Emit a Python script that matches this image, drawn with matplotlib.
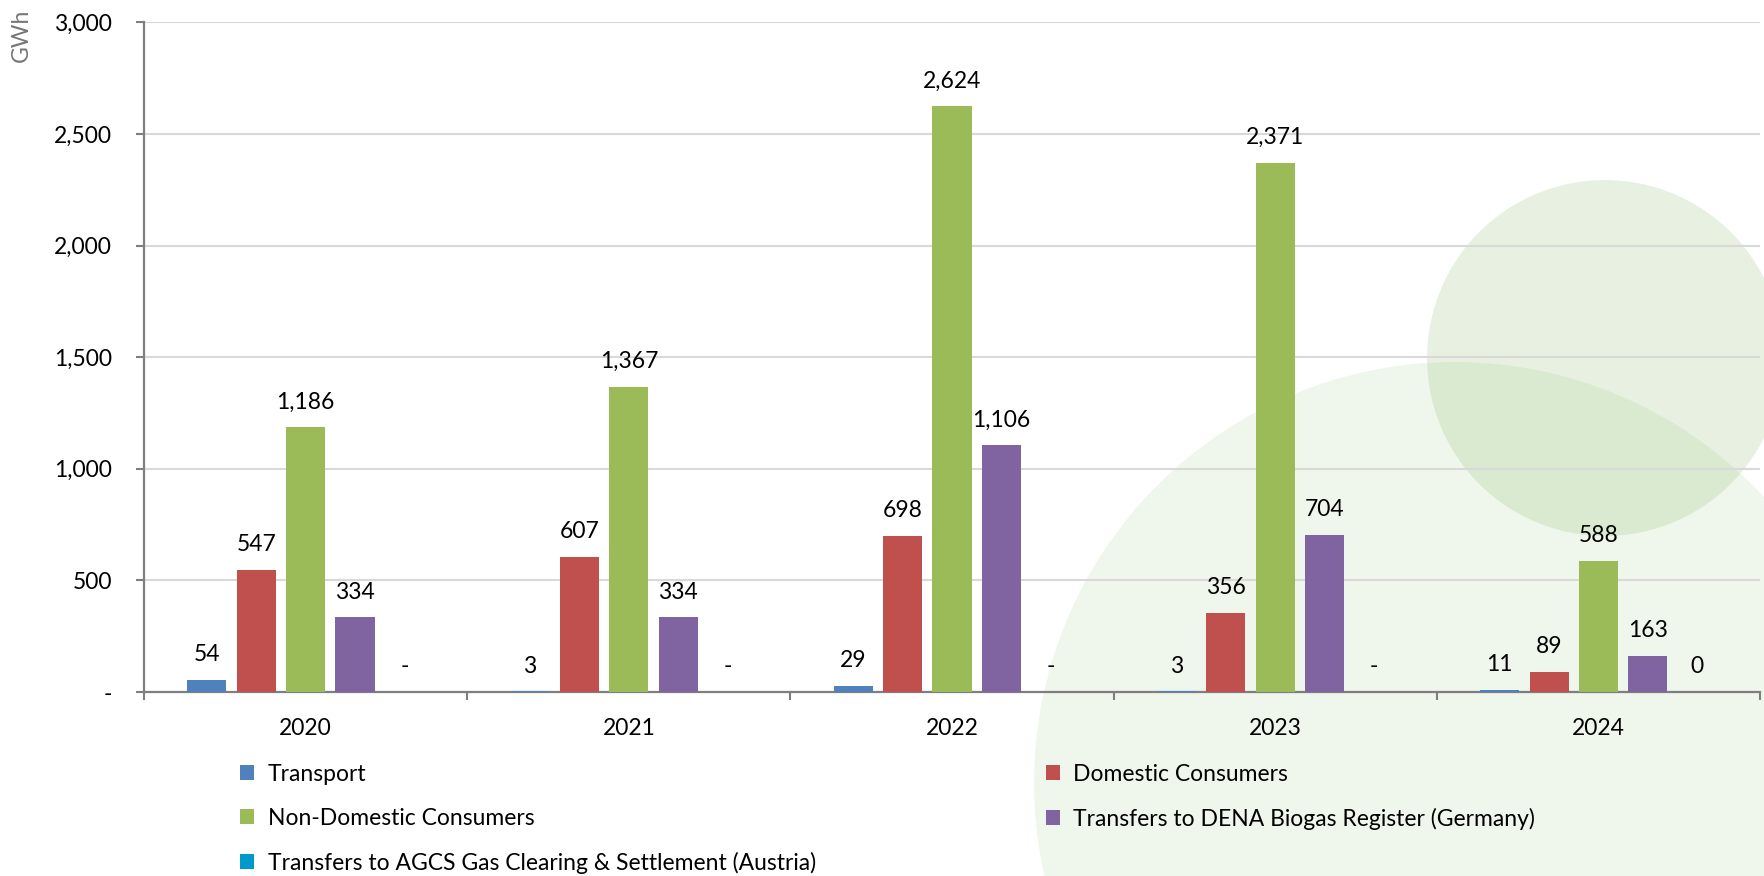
import numpy as np
import matplotlib
matplotlib.use("Agg")
import matplotlib.pyplot as plt
from matplotlib.patches import Circle, Patch
from matplotlib.ticker import FuncFormatter

plt.rcParams['font.family'] = ['Lato', 'DejaVu Sans']

# 数据
years = ['2020', '2021', '2022', '2023', '2024']
series_names = ['Transport',
                'Domestic Consumers',
                'Non-Domestic Consumers',
                'Transfers to DENA Biogas Register (Germany)',
                'Transfers to AGCS Gas Clearing & Settlement (Austria)']
transport = [54, 3, 29, 3, 11]
domestic = [547, 607, 698, 356, 89]
non_domestic = [1186, 1367, 2624, 2371, 588]
dena = [334, 334, 1106, 704, 163]
agcs = [0, 0, 0, 0, 0]
agcs_labels = ['-', '-', '-', '-', '0']
colors = ['#4F81BD', '#C0504D', '#9BBB59', '#8064A2', '#0099CC']

W, H = 1765, 876
FS = 16.5
fig = plt.figure(figsize=(W / 100, H / 100), dpi=100)
ax = fig.add_axes([0.0816, 0.2100, 0.9156, 0.7645])
ax.set_facecolor('none')


def px(x, y):
    # 像素坐标(左上原点) -> 英寸
    return (x / 100, (H - y) / 100)


# 背景装饰圆
fig.add_artist(Circle(px(1455, 783), 4.21, transform=fig.dpi_scale_trans,
                      facecolor='#70AD47', alpha=0.105, lw=0, zorder=-5))
fig.add_artist(Circle(px(1605, 358), 1.78, transform=fig.dpi_scale_trans,
                      facecolor='#70AD47', alpha=0.16, lw=0, zorder=-4))

x = np.arange(len(years))
step = 0.1527
width = 0.121
all_series = [transport, domestic, non_domestic, dena, agcs]

handles = []
for k, (vals, name, col) in enumerate(zip(all_series, series_names, colors)):
    pos = x + (k - 2) * step
    ax.bar(pos, vals, width=width, color=col, zorder=3)
    handles.append(Patch(facecolor=col, label=name))
    for i, v in enumerate(vals):
        label = agcs_labels[i] if vals is agcs else f"{v:,}"
        ax.annotate(label, (pos[i], v), xytext=(0, 13.5), textcoords='offset points',
                    ha='center', va='baseline', fontsize=FS, color='black')

# 坐标轴
ax.set_ylim(0, 3000)
ax.set_yticks(np.arange(0, 3001, 500))
ax.yaxis.set_major_formatter(FuncFormatter(lambda v, p: '-' if v == 0 else f"{int(v):,}"))
ax.grid(axis='y', color='#D9D9D9', lw=1.5, zorder=0)
ax.set_axisbelow(True)

ax.set_xlim(-0.5, 4.5)
ax.set_xticks(x)
ax.set_xticklabels(years)
ax.set_xticks(np.arange(-0.5, 5, 1), minor=True)

for s in ['top', 'right']:
    ax.spines[s].set_visible(False)
for s in ['left', 'bottom']:
    ax.spines[s].set_color('#7F7F7F')
    ax.spines[s].set_linewidth(1.6)

ax.tick_params(axis='y', length=6, width=1.5, color='#7F7F7F', pad=17, labelsize=FS)
ax.tick_params(axis='x', which='major', length=0, pad=19, labelsize=FS)
ax.tick_params(axis='x', which='minor', length=5.5, width=1.5, color='#7F7F7F')

fig.text(21.7 / W, 1 - 35 / H, 'GWh', rotation=90, ha='center', va='center',
         color='#767676', fontsize=FS)

# 图例 (两列)
leg_kw = dict(loc='upper left', frameon=False, fontsize=FS, handlelength=0.63,
              handleheight=0.63, handletextpad=0.57, labelspacing=1.0,
              borderaxespad=0, borderpad=0)
leg1 = fig.legend(handles=[handles[0], handles[2], handles[4]],
                  bbox_to_anchor=(240 / W, 1 - 764 / H), **leg_kw)
leg2 = fig.legend(handles=[handles[1], handles[3]],
                  bbox_to_anchor=(1046 / W, 1 - 764 / H), **leg_kw)

fig.savefig('out.png', dpi=100)
